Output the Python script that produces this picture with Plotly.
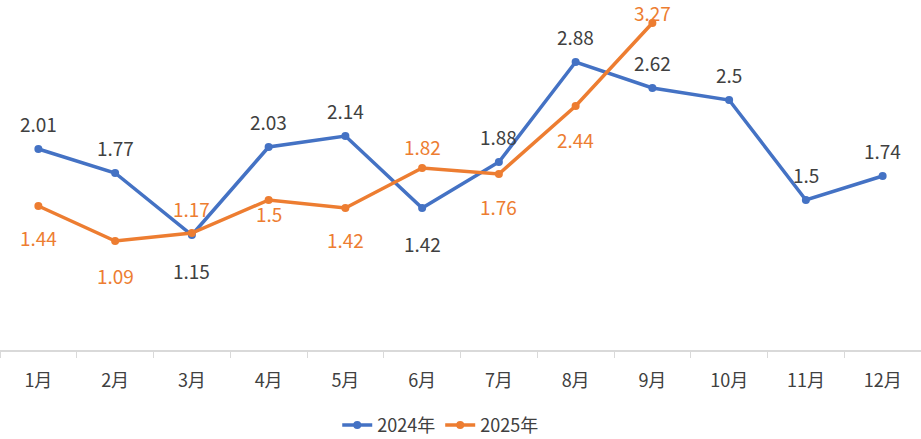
import plotly.graph_objects as go

months = ["1月", "2月", "3月", "4月", "5月", "6月", "7月", "8月", "9月", "10月", "11月", "12月"]
y2024 = [2.01, 1.77, 1.15, 2.03, 2.14, 1.42, 1.88, 2.88, 2.62, 2.5, 1.5, 1.74]
y2025 = [1.44, 1.09, 1.17, 1.5, 1.42, 1.82, 1.76, 2.44, 3.27]

# label offsets in px (positive = above the point)
shift2024 = [26, 26, -35, 26, 26, -35, 26, 26, 26, 26, 26, 26]
shift2025 = [-31, -34, 25, -13, -31, 22, -32, -33, 11]

blue = "#4472C4"
orange = "#ED7D31"
font = "Noto Sans CJK SC"

fig = go.Figure()
fig.add_trace(go.Scatter(x=months, y=y2024, name="2024年", mode="lines+markers",
                         line=dict(color=blue, width=3.5), marker=dict(size=8, color=blue)))
fig.add_trace(go.Scatter(x=months[:len(y2025)], y=y2025, name="2025年", mode="lines+markers",
                         line=dict(color=orange, width=3.5), marker=dict(size=8, color=orange)))

for xs, ys, shifts, col in [(months, y2024, shift2024, "#404040"),
                            (months, y2025, shift2025, orange)]:
    for x, y, s in zip(xs, ys, shifts):
        fig.add_annotation(x=x, y=y, text=str(y), showarrow=False, yshift=s, borderpad=0,
                           font=dict(family=font, size=19, color=col))

fig.update_xaxes(type="category", range=[-0.5, 11.5], showline=True, linecolor="#d9d9d9",
                 linewidth=1.5, ticks="outside", tickson="boundaries", ticklen=6,
                 tickcolor="#d9d9d9", showgrid=False, automargin=False, ticklabelstandoff=14,
                 tickfont=dict(family=font, size=18, color="#404040"))
fig.update_yaxes(range=[0, 3.5], visible=False, automargin=False)
fig.update_layout(width=921, height=439, margin=dict(l=0, r=0, t=0, b=89, autoexpand=False),
                  plot_bgcolor="white", paper_bgcolor="white",
                  legend=dict(orientation="h", x=0.478, xanchor="center", y=-0.215, yanchor="middle",
                              font=dict(family=font, size=18, color="#404040")),
                  showlegend=True)
# the page body has a default 8px margin; drop it so the figure sits at the corner
fig.write_html("out.html", config={"displayModeBar": False},
               post_script="document.body.style.margin='0';")
